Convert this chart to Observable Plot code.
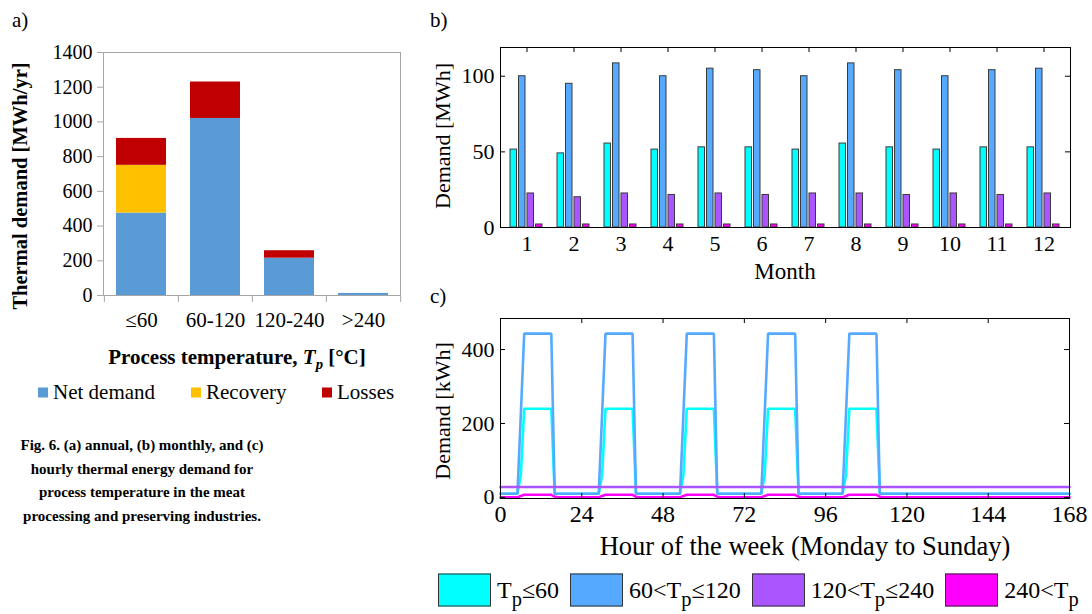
<!DOCTYPE html>
<html><head><meta charset="utf-8">
<script src="https://cdn.jsdelivr.net/npm/d3@7"></script>
<script src="https://cdn.jsdelivr.net/npm/@observablehq/plot@0.6"></script>
<style>
body{margin:0;background:#fff;}
#root{position:relative;width:1092px;height:614px;font-family:"Liberation Serif","Times New Roman",serif;color:#000;overflow:hidden;background:#fff}
#root svg text{font-family:"Liberation Serif","Times New Roman",serif !important}
.abs{position:absolute;white-space:nowrap}
.ctr{transform:translate(-50%,-50%)}
.rot{transform:translate(-50%,-50%) rotate(-90deg)}
svg{position:absolute}
.leg{display:flex;align-items:center}
.sw{display:inline-block;flex:none}
sub{font-size:70%;vertical-align:-0.35em;line-height:0}
.bl sub{font-size:85%;vertical-align:-0.42em}
</style></head><body><div id="root"></div>
<script>
// ---------- Panel a: annual demand ----------
const tempCats = ["≤60", "60-120", "120-240", ">240"];
const components = ["Net demand", "Recovery", "Losses"];
const netDemand = [475, 1020, 215, 12];
const recovery = [275, 0, 0, 0];
const losses = [155, 210, 43, 0];
const compColors = ["#5b9bd5", "#ffc000", "#c00000"];
const annualTicks = [0, 200, 400, 600, 800, 1000, 1200, 1400];

// ---------- Panel b: monthly demand ----------
const months = [1, 2, 3, 4, 5, 6, 7, 8, 9, 10, 11, 12];
const seriesNames = ["Tp≤60", "60<Tp≤120", "120<Tp≤240", "240<Tp"];
const seriesColors = ["#00ffff", "#55aaff", "#aa55ff", "#ff00ff"];
const monthlyLow = [51.5, 49, 55.5, 51.5, 53, 53, 51.5, 55.5, 53, 51.5, 53, 53];
const monthlyMid = [100, 95, 108.5, 100, 105, 104, 100, 108.5, 104, 100, 104, 105];
const monthlyHigh = [22.5, 20, 22.5, 21.5, 22.5, 21.5, 22.5, 22.5, 21.5, 22.5, 21.5, 22.5];
const monthlyVHigh = [2, 2, 2, 2, 2, 2, 2, 2, 2, 2, 2, 2];
const monthlyTicks = [0, 50, 100];

// ---------- Panel c: hourly demand (breakpoints of the weekly profile) ----------
const hourTicks = [0, 24, 48, 72, 96, 120, 144, 168];
const hourlyYTicks = [0, 200, 400];
const lowHours = [0, 5, 6, 7, 15, 16, 29, 30, 31, 39, 40, 53, 54, 55, 63, 64, 77, 78, 79, 87, 88, 101, 102, 103, 111, 112, 168];
const lowVals  = [10, 10, 60, 240, 240, 10, 10, 60, 240, 240, 10, 10, 60, 240, 240, 10, 10, 60, 240, 240, 10, 10, 60, 240, 240, 10, 10];
const midHours = [0, 5, 6, 7, 15, 16, 29, 30, 31, 39, 40, 53, 54, 55, 63, 64, 77, 78, 79, 87, 88, 101, 102, 103, 111, 112, 168];
const midVals  = [10, 10, 225, 443, 443, 10, 10, 225, 443, 443, 10, 10, 225, 443, 443, 10, 10, 225, 443, 443, 10, 10, 225, 443, 443, 10, 10];
const highHours = [0, 168];
const highVals = [28, 28];
const vhighHours = [0, 5, 6, 7, 15, 16, 17, 29, 30, 31, 39, 40, 41, 53, 54, 55, 63, 64, 65, 77, 78, 79, 87, 88, 89, 101, 102, 103, 111, 112, 113, 168];
const vhighVals  = [0, 0, 4, 7, 7, 2, 0, 0, 4, 7, 7, 2, 0, 0, 4, 7, 7, 2, 0, 0, 4, 7, 7, 2, 0, 0, 4, 7, 7, 2, 0, 0];

const root = document.getElementById("root");
const FONT = "'Liberation Serif', 'Times New Roman', serif";

// ---- Panel a
const annual = [];
tempCats.forEach((c, i) => {
  annual.push({cat: c, comp: components[0], v: netDemand[i]});
  annual.push({cat: c, comp: components[1], v: recovery[i]});
  annual.push({cat: c, comp: components[2], v: losses[i]});
});
const aW = 420, aH = 340, aML = 103, aMR = 20;
const aStep = (aW - aML - aMR) / tempCats.length;
const pa = Plot.plot({
  width: aW, height: aH, marginLeft: aML, marginRight: aMR, marginTop: 52, marginBottom: 45,
  style: {fontFamily: FONT, fontSize: "20px", background: "transparent", color: "#000", overflow: "visible"},
  x: {domain: tempCats, paddingInner: 0.33, paddingOuter: 0.165, label: null},
  y: {domain: [0, 1400], label: null},
  color: {domain: components, range: compColors},
  marks: [
    Plot.barY(annual, {x: "cat", y: "v", fill: "comp"}),
    Plot.frame({stroke: "#a6a6a6"}),
    Plot.axisY({ticks: annualTicks, tickFormat: d => String(d), tickSize: 6, tickPadding: 5, stroke: "#a6a6a6", fill: "#000", label: null}),
    Plot.axisX({tickSize: 0, tickPadding: 17, fill: "#000", fontSize: "21px", label: null}),
    Plot.axisX({tickSize: 7, tickFormat: () => "", dx: -aStep / 2, stroke: "#a6a6a6", label: null}),
    Plot.axisX([tempCats[tempCats.length - 1]], {tickSize: 7, tickFormat: () => "", dx: aStep / 2, stroke: "#a6a6a6", label: null})
  ]
});
pa.style.left = "0px"; pa.style.top = "0px";
root.appendChild(pa);

// ---- Panel b
const monthlySeries = [monthlyLow, monthlyMid, monthlyHigh, monthlyVHigh];
const monthly = [];
months.forEach((m, i) => seriesNames.forEach((s, k) => monthly.push({month: m, series: s, v: monthlySeries[k][i]})));
const bW = 672, bH = 290, bML = 80, bMR = 22, bMT = 47, bMB = 63;
const bPW = bW - bML - bMR, bPH = bH - bMT - bMB;
const bStep = bPW / months.length;
const barInsets = [[7, bStep - 14], [15.5, bStep - 22.5], [24, bStep - 31], [32.5, bStep - 39.5]];
const pb = Plot.plot({
  width: bW, height: bH, marginLeft: bML, marginRight: bMR, marginTop: bMT, marginBottom: bMB,
  style: {fontFamily: FONT, fontSize: "22px", background: "transparent", color: "#000", overflow: "visible"},
  x: {type: "band", domain: months, padding: 0, label: null},
  y: {domain: [0, 119], label: null},
  marks: [
    ...seriesNames.map((s, k) => Plot.barY(monthly.filter(d => d.series === s), {
      x: "month", y: "v", fill: seriesColors[k], stroke: "#3a3a3a", strokeWidth: 1,
      insetLeft: barInsets[k][0], insetRight: barInsets[k][1]
    })),
    Plot.frame({stroke: "#000"}),
    Plot.tickY(monthlyTicks, {y: d => d, insetRight: bPW - 5, stroke: "#000"}),
    Plot.tickY(monthlyTicks, {y: d => d, insetLeft: bPW - 5, stroke: "#000"}),
    Plot.tickX(months, {x: d => d, insetBottom: bPH - 5, stroke: "#000"}),
    Plot.axisY({ticks: monthlyTicks, tickSize: 0, tickPadding: 6, label: null}),
    Plot.axisX({tickSize: 0, tickPadding: 8, label: null})
  ]
});
pb.style.left = "420px"; pb.style.top = "0px";
root.appendChild(pb);

// ---- Panel c
const toPts = (hs, vs) => hs.map((h, i) => ({h, v: vs[i]}));
const hourlySeries = [toPts(lowHours, lowVals), toPts(midHours, midVals), toPts(highHours, highVals), toPts(vhighHours, vhighVals)];
const cW = 672, cH = 300, cML = 80, cMR = 23, cMT = 28, cMB = 92;
const cPW = cW - cML - cMR, cPH = cH - cMT - cMB;
const pc = Plot.plot({
  width: cW, height: cH, marginLeft: cML, marginRight: cMR, marginTop: cMT, marginBottom: cMB,
  style: {fontFamily: FONT, fontSize: "23px", background: "transparent", color: "#000", overflow: "visible"},
  x: {domain: [0, 168], label: null},
  y: {domain: [-3, 484], label: null},
  marks: [
    ...hourlySeries.map((pts, k) => Plot.line(pts, {x: "h", y: "v", stroke: seriesColors[k], strokeWidth: 2.6, strokeLinejoin: "miter"})),
    Plot.frame({stroke: "#000"}),
    Plot.tickY(hourlyYTicks, {y: d => d, insetRight: cPW - 5, stroke: "#000"}),
    Plot.tickY(hourlyYTicks, {y: d => d, insetLeft: cPW - 5, stroke: "#000"}),
    Plot.tickX(hourTicks, {x: d => d, insetBottom: cPH - 5, stroke: "#000"}),
    Plot.tickX(hourTicks, {x: d => d, insetTop: cPH - 5, stroke: "#000"}),
    Plot.axisY({ticks: hourlyYTicks, tickSize: 0, tickPadding: 6, fontSize: "22px", label: null}),
    Plot.axisX({ticks: hourTicks, tickSize: 0, tickPadding: 6, fontSize: "24px", label: null})
  ]
});
pc.style.left = "420px"; pc.style.top = "290px";
root.appendChild(pc);

// ---- HTML texts
function addText(html, left, top, cls, style) {
  const d = document.createElement("div");
  d.className = "abs " + (cls || "");
  d.innerHTML = html;
  d.style.left = left + "px"; d.style.top = top + "px";
  Object.assign(d.style, style || {});
  root.appendChild(d);
  return d;
}
addText("a)", 12, 8, "", {fontSize: "21px"});
addText("b)", 430, 8, "", {fontSize: "21px"});
addText("c)", 430, 284, "", {fontSize: "21px"});
addText("Thermal demand [MWh/yr]", 20, 186, "rot", {fontSize: "20.5px", fontWeight: "bold"});
addText("Process temperature, <i>T<sub>p</sub></i> [°C]", 237, 357, "ctr", {fontSize: "21px", fontWeight: "bold"});
addText("Demand [MWh]", 443, 136, "rot", {fontSize: "22px"});
addText("Month", 785, 272, "ctr", {fontSize: "23px"});
addText("Demand [kWh]", 443, 411, "rot", {fontSize: "22px"});
addText("Hour of the week (Monday to Sunday)", 805, 546, "ctr", {fontSize: "26.5px"});

// legend a
const legA = [[38, components[0]], [191, components[1]], [322, components[2]]];
legA.forEach(([x, name], i) => {
  addText(`<span class="sw" style="width:10px;height:10px;background:${compColors[i]};margin-right:5px"></span>${name}`, x, 392, "leg", {fontSize: "21px", transform: "translateY(-50%)"});
});

// caption
addText("Fig. 6. (a) annual, (b) monthly, and (c)<br>hourly thermal energy demand for<br>process temperature in the meat<br>processing and preserving industries.", 142, 481, "ctr",
  {fontSize: "15px", fontWeight: "bold", textAlign: "center", lineHeight: "23.5px"});

// bottom legend
const legLabels = ["T<sub>p</sub>≤60", "60&lt;T<sub>p</sub>≤120", "120&lt;T<sub>p</sub>≤240", "240&lt;T<sub>p</sub>"];
const leg = addText("", 438, 590, "leg bl", {fontSize: "24px", transform: "translateY(-50%)"});
legLabels.forEach((lab, i) => {
  const it = document.createElement("span");
  it.className = "leg";
  it.style.marginRight = i < legLabels.length - 1 ? "11px" : "0";
  it.innerHTML = `<span class="sw" style="width:51px;height:31px;background:${seriesColors[i]};border:1px solid #333;margin-right:6px"></span><span>${lab}</span>`;
  leg.appendChild(it);
});
</script></body></html>
